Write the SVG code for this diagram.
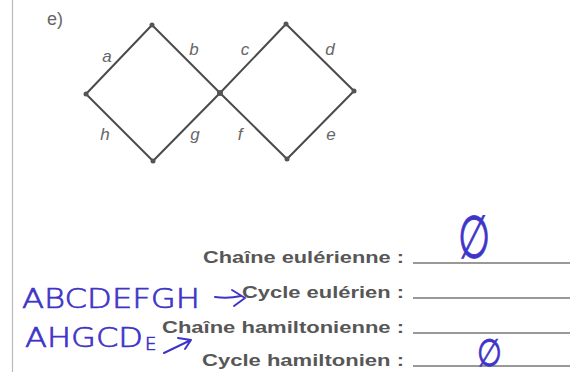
<svg xmlns="http://www.w3.org/2000/svg" width="573" height="377" viewBox="0 0 573 377">
<style>
.edge{stroke:#4a4a4a;stroke-width:2;fill:none;stroke-linecap:round}
.v{fill:#555}
.lbl{font-family:"Liberation Sans",Arial,sans-serif;font-style:italic;font-size:17px;fill:#666;text-anchor:middle}
.q{font-family:"Liberation Sans",Arial,sans-serif;font-weight:bold;font-size:17px;fill:#575757}
.ul{stroke:#777;stroke-width:1.4}
.hw{font-family:"DejaVu Sans",sans-serif;font-weight:200;fill:#3f34c8;stroke:#3f34c8;stroke-width:0.7}
.pen{stroke:#3f34c8;stroke-width:2;fill:none;stroke-linecap:round;stroke-linejoin:round}
</style>
<rect width="573" height="377" fill="#fff"/>
<line x1="12.5" y1="0" x2="12.5" y2="372" stroke="#bbb" stroke-width="1.2"/>
<text x="47" y="25" font-family="Liberation Sans,Arial,sans-serif" font-size="18" fill="#666">e)</text>
<g id="connectors">
<line class="edge" x1="152" y1="25" x2="86" y2="94"/>
<line class="edge" x1="152" y1="25" x2="220" y2="93"/>
<line class="edge" x1="220" y1="93" x2="286" y2="24"/>
<line class="edge" x1="286" y1="24" x2="354" y2="91"/>
<line class="edge" x1="354" y1="91" x2="287" y2="159"/>
<line class="edge" x1="287" y1="159" x2="220" y2="93"/>
<line class="edge" x1="220" y1="93" x2="153" y2="161"/>
<line class="edge" x1="153" y1="161" x2="86" y2="94"/>
</g>
<g id="v1"><circle class="v" cx="152" cy="25" r="2.5"/></g>
<g id="v2"><circle class="v" cx="86" cy="94" r="2.5"/></g>
<g id="v3"><circle class="v" cx="153" cy="161" r="2.5"/></g>
<g id="v4"><circle class="v" cx="220" cy="93" r="3"/></g>
<g id="v5"><circle class="v" cx="286" cy="24" r="2.5"/></g>
<g id="v6"><circle class="v" cx="354" cy="91" r="2.5"/></g>
<g id="v7"><circle class="v" cx="287" cy="159" r="2.5"/></g>
<g id="labels">
<text class="lbl" x="107" y="62">a</text>
<text class="lbl" x="194" y="55">b</text>
<text class="lbl" x="245" y="55">c</text>
<text class="lbl" x="330" y="55">d</text>
<text class="lbl" x="105" y="140">h</text>
<text class="lbl" x="195" y="140">g</text>
<text class="lbl" x="240" y="140">f</text>
<text class="lbl" x="331" y="140">e</text>
</g>
<g id="questions">
<text class="q" x="203" y="263" textLength="201" lengthAdjust="spacingAndGlyphs">Chaîne eulérienne :</text>
<text class="q" x="242" y="298" textLength="162" lengthAdjust="spacingAndGlyphs">Cycle eulérien :</text>
<text class="q" x="162" y="333" textLength="242" lengthAdjust="spacingAndGlyphs">Chaîne hamiltonienne :</text>
<text class="q" x="202" y="366" textLength="202" lengthAdjust="spacingAndGlyphs">Cycle hamiltonien :</text>
<line class="ul" x1="413" y1="263" x2="570" y2="263"/>
<line class="ul" x1="413" y1="298" x2="570" y2="298"/>
<line class="ul" x1="413" y1="333" x2="570" y2="333"/>
<line class="ul" x1="413" y1="366" x2="570" y2="366"/>
</g>
<g id="handwriting">
<text class="hw" x="22" y="308" font-size="27" textLength="178" lengthAdjust="spacingAndGlyphs">ABCDEFGH</text>
<path class="pen" d="M215 297 Q228 299 241 296 M232 290 L245 298 L234 306"/>
<text class="hw" x="25" y="347" font-size="26" textLength="118" lengthAdjust="spacingAndGlyphs">AHGCD</text>
<text class="hw" x="145" y="350" font-size="18">E</text>
<path class="pen" d="M164 353 L191 340 M178 338 L191 340 L185 349"/>
<text class="hw" x="474" y="258" font-size="46" text-anchor="middle" transform="translate(474 258) scale(0.8 1.3) translate(-474 -258)">∅</text>
<text class="hw" x="490" y="366" font-size="32" text-anchor="middle" transform="translate(490 366) scale(0.9 1.2) translate(-490 -366)">∅</text>
</g>
</svg>
